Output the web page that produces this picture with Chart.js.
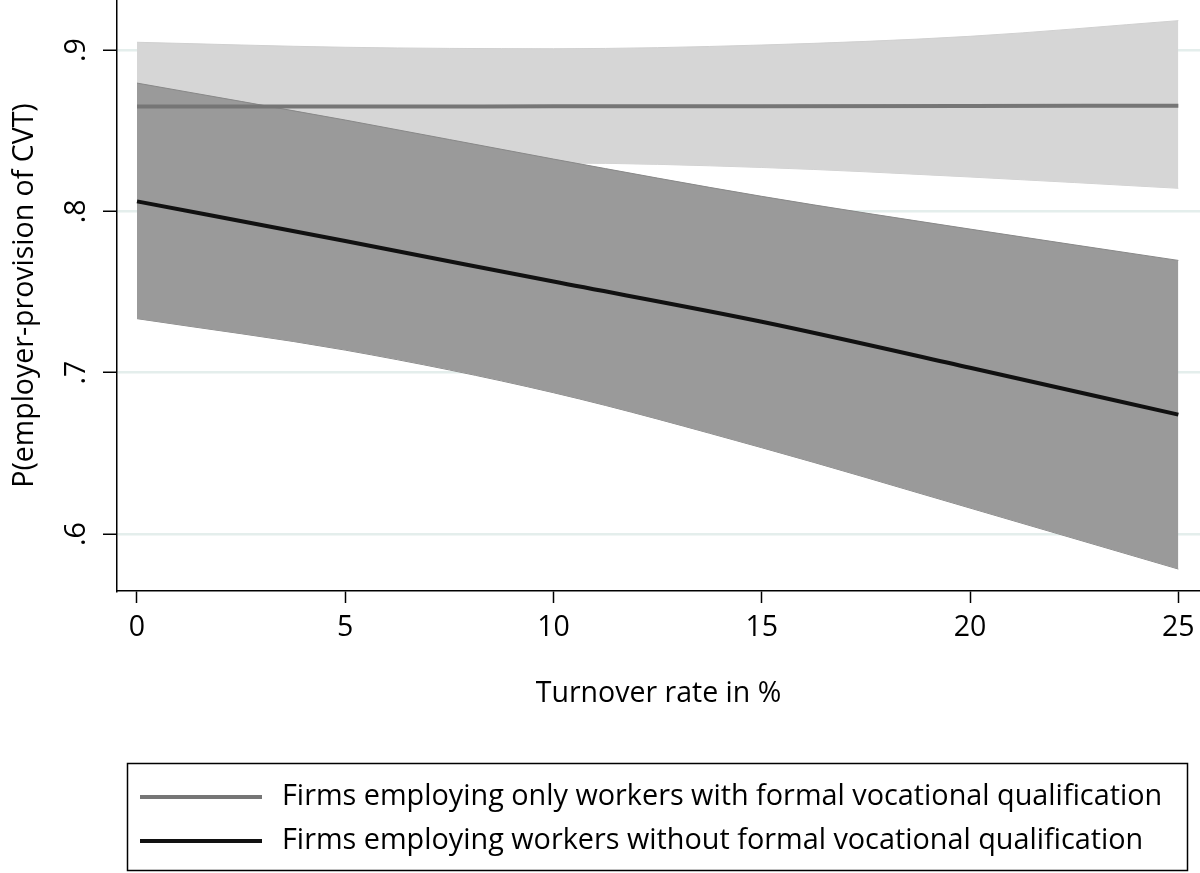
<!DOCTYPE html>
<html>
<head>
<meta charset="utf-8">
<script src="https://cdn.jsdelivr.net/npm/chart.js@4.4.1/dist/chart.umd.min.js"></script>
<style>
	body { margin: 0; background: #fff; }
	#wrap { width: 1200px; height: 873px; position: relative; }
</style>
</head>
<body>
<div id="wrap"><canvas id="cvt-chart"></canvas></div>
<script>
// turnover rate (x) and predicted probabilities
var turnover = [0, 5, 10, 15, 20, 25];

var formalMean  = [0.8650, 0.8650, 0.8651, 0.8652, 0.8653, 0.8655];
var formalUpper = [0.9048, 0.9017, 0.9008, 0.9031, 0.9085, 0.9182];
var formalLower = [0.8252, 0.8295, 0.8300, 0.8272, 0.8213, 0.8143];

var noFormalMean  = [0.8062, 0.7816, 0.7565, 0.7316, 0.7031, 0.6740];
var noFormalUpper = [0.8795, 0.8566, 0.8324, 0.8093, 0.7890, 0.7696];
var noFormalLower = [0.7335, 0.7140, 0.6876, 0.6535, 0.6161, 0.5783];

var xTicks = [0, 5, 10, 15, 20, 25];
var yTicks = [0.6, 0.7, 0.8, 0.9];
var yTickLabels = ['.6', '.7', '.8', '.9'];

var seriesNames = [
	'Firms employing only workers with formal vocational qualification',
	'Firms employing workers without formal vocational qualification'
];

function pts(ys) {
	return turnover.map(function(x, i) { return { x: x, y: ys[i] } });
}

Chart.defaults.font.family = '"Open Sans", sans-serif';
Chart.defaults.color = '#000';

var band = { pointRadius: 0, cubicInterpolationMode: 'monotone', borderWidth: 1 };

// legend with a frame, drawn below the x axis
var boxLegend = {
	id: 'boxLegend',
	afterDraw: function(chart) {
		var ctx = chart.ctx;
		var rows = [797, 841];
		var lines = [chart.data.datasets[4], chart.data.datasets[5]];
		ctx.save();
		ctx.strokeStyle = '#000';
		ctx.lineWidth = 1.5;
		ctx.strokeRect(127.5, 763.5, 1060, 107);
		ctx.font = '28.8px "Open Sans"';
		ctx.textBaseline = 'middle';
		ctx.fillStyle = '#000';
		for (var i = 0; i < rows.length; i++) {
			ctx.beginPath();
			ctx.strokeStyle = lines[i].borderColor;
			ctx.lineWidth = 4;
			ctx.moveTo(140, rows[i]);
			ctx.lineTo(262, rows[i]);
			ctx.stroke();
			ctx.fillText(lines[i].label, 282, rows[i]);
		}
		ctx.restore();
	}
};

var config_cvt = {
	type: 'line',
	data: {
		datasets: [
			Object.assign({ label: 'upper1', data: pts(formalUpper), fill: '+1', backgroundColor: '#d6d6d6', borderColor: '#d0d0d0', order: 4 }, band),
			Object.assign({ label: 'lower1', data: pts(formalLower), fill: false, borderColor: '#d0d0d0', order: 4 }, band),
			Object.assign({ label: 'upper2', data: pts(noFormalUpper), fill: '+1', backgroundColor: '#9a9a9a', borderColor: '#888888', order: 3 }, band),
			Object.assign({ label: 'lower2', data: pts(noFormalLower), fill: false, borderColor: '#888888', order: 3 }, band),
			{ label: seriesNames[0], data: pts(formalMean), borderColor: '#767676', borderWidth: 4, pointRadius: 0, cubicInterpolationMode: 'monotone', fill: false, order: 1 },
			{ label: seriesNames[1], data: pts(noFormalMean), borderColor: '#111111', borderWidth: 4, pointRadius: 0, cubicInterpolationMode: 'monotone', fill: false, order: 0 }
		]
	},
	options: {
		responsive: true,
		maintainAspectRatio: false,
		animation: false,
		layout: { padding: { top: 0, left: 0, right: 0, bottom: 142 } },
		plugins: { legend: { display: false }, tooltip: { enabled: false } },
		scales: {
			x: {
				type: 'linear',
				min: -0.48,
				max: 25.52,
				afterBuildTicks: function(s) { s.ticks = xTicks.map(function(v) { return { value: v } }) },
				afterFit: function(s) { s.height = 140; s.paddingLeft = 0; s.paddingRight = 0; },
				grid: { drawOnChartArea: false, tickLength: 12, tickColor: '#000', tickWidth: 1.5 },
				border: { color: '#000', width: 1.5 },
				ticks: { font: { size: 28.5 }, padding: 8, maxRotation: 0 },
				title: { display: true, text: 'Turnover rate in %', font: { size: 28.5 }, padding: { top: 20, bottom: 20 } }
			},
			y: {
				min: 0.5647,
				max: 0.931,
				afterBuildTicks: function(s) { s.ticks = yTicks.map(function(v) { return { value: v } }) },
				afterFit: function(s) { s.width = 117; s.paddingTop = 0; s.paddingBottom = 0; },
				grid: { color: '#e4eeec', lineWidth: 2.5, tickLength: 14, tickColor: '#000', tickWidth: 1.5 },
				border: { color: '#000', width: 1.5 },
				ticks: {
					callback: function(v, i) { return yTickLabels[i] },
					minRotation: 90,
					maxRotation: 90,
					crossAlign: 'center',
					padding: 14,
					font: { size: 28.5 }
				},
				title: { display: true, text: 'P(employer-provision of CVT)', font: { size: 28.5 }, padding: { top: 8, bottom: 8 } }
			}
		}
	},
	plugins: [boxLegend]
};

window.onload = function() {
	var ctx = document.getElementById('cvt-chart').getContext('2d');
	window.cvtChart = new Chart(ctx, config_cvt);
};
</script>
</body>
</html>
